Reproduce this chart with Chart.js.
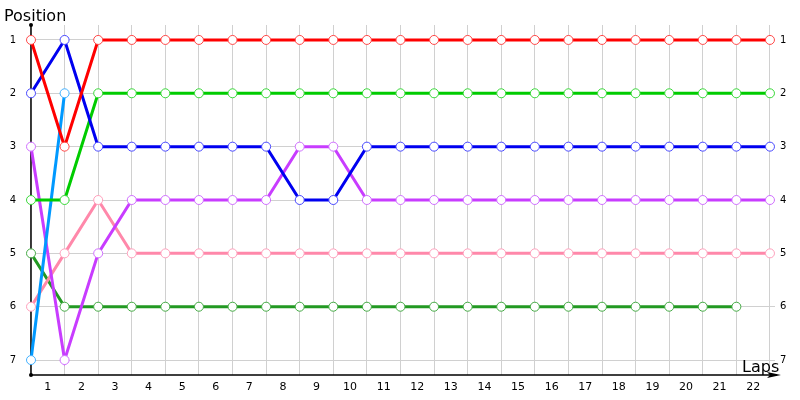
<!DOCTYPE html>
<html>
<head>
<meta charset="utf-8">
<script src="https://cdn.jsdelivr.net/npm/chart.js@4/dist/chart.umd.min.js"></script>
<style>
  html, body { margin: 0; padding: 0; background: #fff; }
  #c { display: block; }
</style>
</head>
<body>
<canvas id="c" width="800" height="400"></canvas>
<script>
// lap index 0..22 (start + 22 laps)
const laps = [0, 1, 2, 3, 4, 5, 6, 7, 8, 9, 10, 11, 12, 13, 14, 15, 16, 17, 18, 19, 20, 21, 22]
const lapLabels = ['1', '2', '3', '4', '5', '6', '7', '8', '9', '10', '11', '12', '13', '14', '15', '16', '17', '18', '19', '20', '21', '22']
const positions = [1, 2, 3, 4, 5, 6, 7]

// positions per driver
const red = [1, 3, 1, 1, 1, 1, 1, 1, 1, 1, 1, 1, 1, 1, 1, 1, 1, 1, 1, 1, 1, 1, 1]
const blue = [2, 1, 3, 3, 3, 3, 3, 3, 4, 4, 3, 3, 3, 3, 3, 3, 3, 3, 3, 3, 3, 3, 3]
const green = [4, 4, 2, 2, 2, 2, 2, 2, 2, 2, 2, 2, 2, 2, 2, 2, 2, 2, 2, 2, 2, 2, 2]
const lightBlue = [7, 2]
const purple = [3, 7, 5, 4, 4, 4, 4, 4, 3, 3, 4, 4, 4, 4, 4, 4, 4, 4, 4, 4, 4, 4, 4]
const pink = [6, 5, 4, 5, 5, 5, 5, 5, 5, 5, 5, 5, 5, 5, 5, 5, 5, 5, 5, 5, 5, 5, 5]
const darkGreen = [5, 6, 6, 6, 6, 6, 6, 6, 6, 6, 6, 6, 6, 6, 6, 6, 6, 6, 6, 6, 6, 6]

function series(vals, color, pointColor) {
    return {
        data: vals.map((v, i) => ({ x: laps[i], y: v })),
        borderColor: color,
        borderWidth: 3,
        pointRadius: 4.5,
        pointBorderWidth: 1,
        pointBackgroundColor: '#ffffff',
        pointBorderColor: pointColor,
        tension: 0,
        clip: false
    }
}

// axis lines + arrow go under the lines, titles on top
const decorations = {
    id: 'decorations',
    beforeDatasetsDraw(chart) {
        const ctx = chart.ctx
        const a = chart.chartArea
        const x0 = chart.scales.x.getPixelForValue(0)
        const yb = a.bottom
        ctx.save()
        ctx.strokeStyle = '#000'
        ctx.fillStyle = '#000'
        ctx.lineWidth = 1.5
        ctx.beginPath()
        ctx.moveTo(x0, a.top)
        ctx.lineTo(x0, yb)
        ctx.lineTo(a.right + 2, yb)
        ctx.stroke()
        ctx.beginPath()
        ctx.arc(x0, a.top, 2, 0, Math.PI * 2)
        ctx.fill()
        ctx.beginPath()
        ctx.arc(x0, yb, 2, 0, Math.PI * 2)
        ctx.fill()
        ctx.beginPath()
        ctx.moveTo(a.right + 6, yb)
        ctx.lineTo(a.right - 8, yb - 3)
        ctx.lineTo(a.right - 5, yb)
        ctx.lineTo(a.right - 8, yb + 3)
        ctx.closePath()
        ctx.fill()
        ctx.restore()
    },
    afterDraw(chart) {
        const ctx = chart.ctx
        ctx.save()
        ctx.fillStyle = '#000'
        ctx.font = '16px "DejaVu Sans"'
        ctx.textBaseline = 'alphabetic'
        ctx.textAlign = 'left'
        ctx.fillText('Position', 4, 21)
        ctx.fillText('Laps', 742, 372)
        ctx.restore()
    }
}

const config = {
    type: 'line',
    data: {
        datasets: [
            series(red, '#ff0000', '#ff4848'),
            series(blue, '#0000f0', '#4848ff'),
            series(green, '#00cc00', '#38d838'),
            series(lightBlue, '#0099ff', '#40b0ff'),
            series(purple, '#c83cff', '#d070ff'),
            series(pink, '#ff88aa', '#ffa0bc'),
            series(darkGreen, '#229922', '#44aa44')
        ]
    },
    options: {
        responsive: false,
        animation: false,
        layout: { padding: { top: 25, left: 0, right: 0, bottom: 0 } },
        plugins: { legend: { display: false }, tooltip: { enabled: false } },
        scales: {
            x: {
                type: 'linear',
                min: 0,
                max: 22.15,
                afterBuildTicks: axis => {
                    axis.ticks = lapLabels.map((l, i) => ({ value: i + 0.5 }))
                },
                afterFit: axis => { axis.height = 25 },
                grid: { offset: true, color: '#d0d0d0', drawTicks: false, lineWidth: 1 },
                border: { display: false },
                ticks: {
                    padding: 6,
                    maxRotation: 0,
                    autoSkip: false,
                    color: '#000',
                    font: { family: 'DejaVu Sans', size: 11 },
                    callback: (v, i) => lapLabels[i]
                }
            },
            y: {
                type: 'linear',
                reverse: true,
                min: 0.72,
                max: 7.28,
                afterBuildTicks: axis => {
                    axis.ticks = positions.map(p => ({ value: p }))
                },
                afterFit: axis => { axis.width = 31 },
                grid: { color: '#d0d0d0', drawTicks: false, lineWidth: 1 },
                border: { display: false },
                ticks: {
                    padding: 15,
                    color: '#000',
                    font: { family: 'DejaVu Sans', size: 10 },
                    callback: v => String(v)
                }
            },
            y2: {
                type: 'linear',
                position: 'right',
                reverse: true,
                min: 0.72,
                max: 7.28,
                afterBuildTicks: axis => {
                    axis.ticks = positions.map(p => ({ value: p }))
                },
                afterFit: axis => { axis.width = 25 },
                grid: { display: false, drawTicks: false },
                border: { display: false },
                ticks: {
                    padding: 5,
                    color: '#000',
                    font: { family: 'DejaVu Sans', size: 10 },
                    callback: v => String(v)
                }
            }
        }
    },
    plugins: [decorations]
}

const myChart = new Chart(document.getElementById('c'), config)
</script>
</body>
</html>
